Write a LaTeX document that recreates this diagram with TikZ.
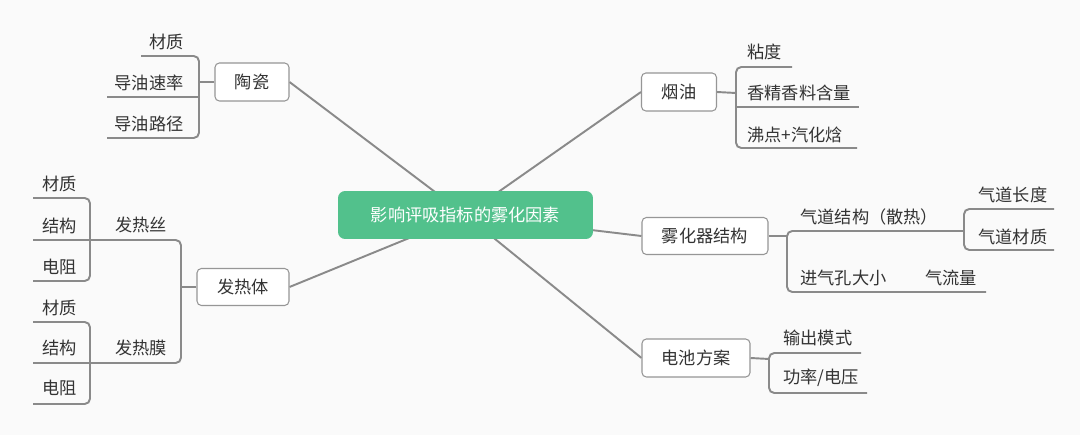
\documentclass[tikz,border=0pt]{standalone}
\usepackage{fontspec}
\newfontfamily\cjk{Noto Sans CJK SC}
\definecolor{bgc}{RGB}{250,250,250}
\definecolor{linegray}{RGB}{138,138,138}
\definecolor{boxgray}{RGB}{150,150,150}
\definecolor{txt}{RGB}{51,51,51}
\definecolor{mint}{RGB}{82,193,140}
\pgfdeclarelayer{bg}
\pgfdeclarelayer{lines}
\pgfsetlayers{bg,lines,main}
\tikzset{
  ln/.style={draw=linegray, line width=1.1pt, rounded corners=3pt},
  tfont/.style={font=\cjk\fontsize{9.8}{12}\selectfont},
  box/.style={tfont, draw=boxgray, line width=0.6pt, rounded corners=2.5pt, fill=white, text=txt, inner sep=0pt},
  lbl/.style={tfont, text=txt, inner sep=0pt},
  hub/.style={tfont, fill=mint, text=white, rounded corners=4pt, inner sep=0pt, minimum width=5.1cm, minimum height=0.96cm},
}
\begin{document}
\begin{tikzpicture}[x=0.02cm,y=-0.02cm]
\useasboundingbox (0,0) rectangle (1080,435);
\begin{pgfonlayer}{bg}
\fill[bgc] (0,0) rectangle (1080,435);
\end{pgfonlayer}

% central and first-level nodes
\node[hub] (hub) at (465.5,215) {影响评吸指标的雾化因素};
\node[box, minimum width=1.48cm, minimum height=0.76cm] (taoci) at (252,82) {陶瓷};
\node[box, minimum width=1.84cm, minimum height=0.74cm] (fareti) at (243,287) {发热体};
\node[box, minimum width=1.5cm, minimum height=0.76cm] (yanyou) at (679,92) {烟油};
\node[box, minimum width=2.52cm, minimum height=0.74cm] (wuhua) at (705,236) {雾化器结构};
\node[box, minimum width=2.16cm, minimum height=0.76cm] (dianchi) at (696,358) {电池方案};

% labels: 陶瓷
\node[lbl, anchor=east] (tc1) at (184,42) {材质};
\node[lbl, anchor=east] (tc2) at (184,83) {导油速率};
\node[lbl, anchor=east] (tc3) at (184,124) {导油路径};
% labels: 发热体
\node[lbl, anchor=west] (fs) at (115,225) {发热丝};
\node[lbl, anchor=west] (fm) at (115,348) {发热膜};
\node[lbl, anchor=west] (fs1) at (42,184) {材质};
\node[lbl, anchor=west] (fs2) at (42,226) {结构};
\node[lbl, anchor=west] (fs3) at (42,267) {电阻};
\node[lbl, anchor=west] (fm1) at (42,308) {材质};
\node[lbl, anchor=west] (fm2) at (42,348) {结构};
\node[lbl, anchor=west] (fm3) at (42,388) {电阻};
% labels: 烟油
\node[lbl, anchor=west] (yy1) at (747,52) {粘度};
\node[lbl, anchor=west] (yy2) at (747,93) {香精香料含量};
\node[lbl, anchor=west] (yy3) at (747,135) {沸点+汽化焓};
% labels: 雾化器结构
\node[lbl, anchor=west] (wh1) at (800,217) {气道结构（散热）};
\node[lbl, anchor=west] (wh2) at (800,278) {进气孔大小};
\node[lbl, anchor=west] (wh21) at (925,278) {气流量};
\node[lbl, anchor=west] (wh11) at (978,195) {气道长度};
\node[lbl, anchor=west] (wh12) at (978,237) {气道材质};
% labels: 电池方案
\node[lbl, anchor=west] (dc1) at (783,338) {输出模式};
\node[lbl, anchor=west] (dc2) at (783,378) {功率/电压};

% connector points
\coordinate (tcB) at (199,82);
\coordinate (frB) at (181,287);
\coordinate (fsB) at (90,240);
\coordinate (fmB) at (90,363);
\coordinate (yyB) at (736,93);
\coordinate (whB) at (787,236);
\coordinate (qdB) at (964,231);
\coordinate (dcB) at (769,359);

\begin{pgfonlayer}{lines}
% hub spokes
\draw[ln] (taoci.east) -- (hub.center);
\draw[ln] (fareti.east) -- (hub.center);
\draw[ln] (yanyou.west) -- (hub.center);
\draw[ln] (wuhua.west) -- (hub.center);
\draw[ln] (dianchi.west) -- (hub.center);

% 陶瓷
\draw[ln] (taoci.west) -- (tcB);
\draw[ln] (141,56) -- (199,56) -- (199,138) -- (107,138);
\draw[ln] (107,97) -- (199,97);

% 发热体
\draw[ln] (fareti.west) -- (frB);
\draw[ln] (fsB) -- (181,240) -- (181,363) -- (fmB);
\draw[ln] (33,198) -- (90,198) -- (90,281) -- (33,281);
\draw[ln] (33,240) -- (fsB);
\draw[ln] (33,322) -- (90,322) -- (90,404) -- (33,404);
\draw[ln] (33,363) -- (fmB);

% 烟油
\draw[ln] (yanyou.east) -- (yyB);
\draw[ln] (792,67) -- (736,67) -- (736,148) -- (857,148);
\draw[ln] (736,107) -- (859,107);

% 雾化器结构
\draw[ln] (wuhua.east) -- (whB);
\draw[ln] (qdB) -- (787,231) -- (787,292) -- (986,292);
\draw[ln] (1054,209) -- (964,209) -- (964,250) -- (1054,250);

% 电池方案
\draw[ln] (dianchi.east) -- (dcB);
\draw[ln] (861,353) -- (769,353) -- (769,393) -- (867,393);
\end{pgfonlayer}
\end{tikzpicture}
\end{document}
